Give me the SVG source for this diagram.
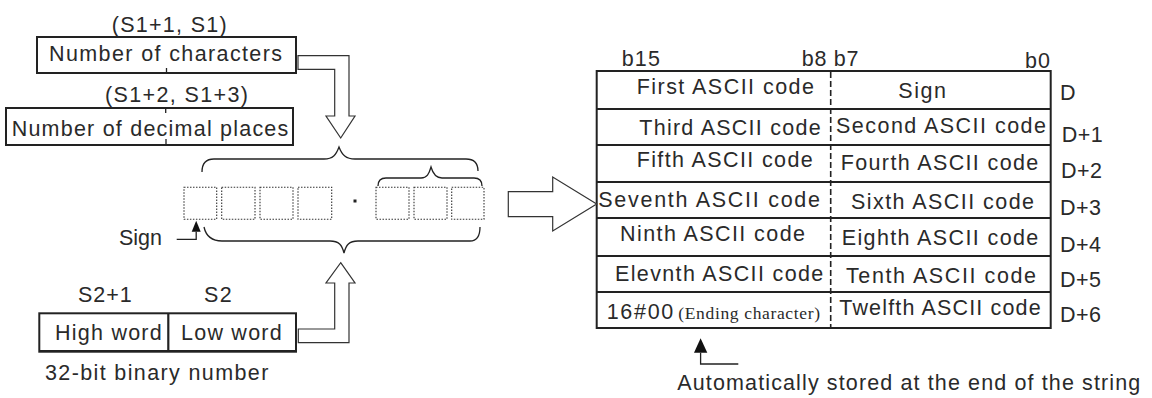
<svg xmlns="http://www.w3.org/2000/svg" width="1152" height="398" viewBox="0 0 1152 398">
<style>
text{font-family:"Liberation Sans",Arial,sans-serif;font-size:21.5px;fill:#2a2a2a;}
.serif{font-family:"Liberation Serif","Times New Roman",serif;font-size:17.5px;}
.box{fill:#fff;stroke:#222;stroke-width:2;}
.line{fill:none;stroke:#222;stroke-width:1.3;}
.hollow{fill:#fff;stroke:#333;stroke-width:1.2;stroke-linejoin:miter;}
.dot{fill:none;stroke:#333;stroke-width:1.1;stroke-dasharray:1.5 1.5;}
.brace{fill:none;stroke:#222;stroke-width:1.3;}
.row{stroke:#222;stroke-width:2.2;}
</style>
<rect width="1152" height="398" fill="#fff"/>

<g id="chars">
<text x="111.7" y="31.7" textLength="115">(S1+1, S1)</text>
<rect class="box" x="37" y="37" width="259" height="36"/>
<line class="line" x1="166.5" y1="68" x2="166.5" y2="73" stroke-width="2"/>
<text x="49" y="61" textLength="233">Number of characters</text>
</g>

<g id="decimals">
<text x="105" y="101.7" textLength="143">(S1+2, S1+3)</text>
<rect class="box" x="6" y="108" width="287" height="37"/>
<line class="line" x1="165.7" y1="108" x2="165.7" y2="113" stroke-width="2"/>
<line class="line" x1="166" y1="139" x2="166" y2="145" stroke-width="2"/>
<text x="11.7" y="136" textLength="276.6">Number of decimal places</text>
</g>

<g id="digits">
<rect class="dot" x="184" y="187.3" width="32.7" height="32"/>
<rect class="dot" x="221.7" y="187.3" width="33.3" height="32"/>
<rect class="dot" x="260" y="187.3" width="33" height="32"/>
<rect class="dot" x="298" y="187.3" width="33.7" height="32"/>
<rect x="353.5" y="199.5" width="3" height="3" fill="#222"/>
<rect class="dot" x="376" y="187.3" width="33" height="32"/>
<rect class="dot" x="414" y="187.3" width="33" height="32"/>
<rect class="dot" x="451.7" y="187.3" width="32.3" height="32"/>
<path class="brace" d="M202,172 C202,163 206,159 214,159 L324,159 C333,159 336,155 339,147 C342,155 346,159 355,159 L466,159 C474,159 478,163 478,171"/>
<path class="brace" d="M378,186 C378,180 381,178 386,178 L421,178 C427,178 429,174 431,167 C433,174 436,178 442,178 L474,178 C479,178 482,180 482,186"/>
<path class="brace" d="M204,227 C206,236 212,241 222,241 L330,241 C339,241 342,245 344,253 C346,245 349,241 358,241 L470,241 C477,241 480,236 480,227"/>
</g>

<g id="sign">
<text x="162" y="245" text-anchor="end">Sign</text>
</g>

<g id="words">
<text x="78" y="301.7" textLength="53.7">S2+1</text>
<text x="204" y="301.7" textLength="27.7">S2</text>
<rect class="box" x="39.3" y="313.3" width="256.7" height="38.4"/>
<line class="row" x1="39.3" y1="351" x2="296" y2="351" stroke-width="2.5"/>
<line class="row" x1="168.3" y1="313.3" x2="168.3" y2="351.7"/>
<text x="55" y="340" textLength="106.7">High word</text>
<text x="181" y="340" textLength="100.7">Low word</text>
<text x="45" y="380" textLength="223.3">32-bit binary number</text>
</g>

<g id="table">
<text x="621.7" y="66" textLength="38.3">b15</text>
<text x="801.7" y="66" textLength="56.7">b8 b7</text>
<text x="1025" y="68.3" textLength="25">b0</text>
<rect class="box" x="596.7" y="71" width="454" height="257" stroke-width="2.2"/>
<line class="row" x1="596.7" y1="109" x2="1050.7" y2="109"/>
<line class="row" x1="596.7" y1="145" x2="1050.7" y2="145"/>
<line class="row" x1="596.7" y1="182" x2="1050.7" y2="182"/>
<line class="row" x1="596.7" y1="218" x2="1050.7" y2="218"/>
<line class="row" x1="596.7" y1="256" x2="1050.7" y2="256"/>
<line class="row" x1="596.7" y1="292" x2="1050.7" y2="292"/>
<line x1="830.7" y1="72" x2="830.7" y2="327" stroke="#222" stroke-width="1.6" stroke-dasharray="6 3"/>

<text x="636.7" y="94.3" textLength="177.3">First ASCII code</text>
<text x="639.3" y="135" textLength="181.4">Third ASCII code</text>
<text x="636.7" y="166.7" textLength="176">Fifth ASCII code</text>
<text x="598.3" y="206.7" textLength="221.7">Seventh ASCII code</text>
<text x="620" y="240.7" textLength="185">Ninth ASCII code</text>
<text x="615" y="281" textLength="208.3">Elevnth ASCII code</text>
<text x="606.7" y="319" textLength="66.6">16#00</text>
<text class="serif" x="678.3" y="319" textLength="141.7">(Ending character)</text>

<text x="898.3" y="97.7" textLength="47.7">Sign</text>
<text x="836" y="132.7" textLength="210">Second ASCII code</text>
<text x="840.7" y="170" textLength="197.6">Fourth ASCII code</text>
<text x="851" y="209.3" textLength="183">Sixth ASCII code</text>
<text x="841.7" y="245" textLength="196.6">Eighth ASCII code</text>
<text x="846" y="283.3" textLength="190">Tenth ASCII code</text>
<text x="839.3" y="315" textLength="201.4">Twelfth ASCII code</text>

<text x="1060" y="100" textLength="17">D</text>
<text x="1061.7" y="141.7" textLength="41">D+1</text>
<text x="1061" y="178.3" textLength="41">D+2</text>
<text x="1060" y="215" textLength="41">D+3</text>
<text x="1060" y="251.7" textLength="41">D+4</text>
<text x="1060" y="286.7" textLength="41">D+5</text>
<text x="1060" y="322" textLength="41">D+6</text>
</g>

<g id="note">
<text x="677.3" y="390" textLength="463">Automatically stored at the end of the string</text>
</g>

<g id="connectors">
<path class="hollow" d="M298,55.7 L349,55.7 L349,116 L355,116 L340.7,138 L326,116 L334.7,116 L334.7,69.3 L298,69.3 Z"/>
<path class="hollow" d="M340.7,262.7 L355,283 L349,283 L349,342.7 L298.3,342.7 L298.3,329 L334.7,329 L334.7,283 L326,283 Z"/>
<path class="hollow" d="M508.3,191.7 L552.7,191.7 L552.7,177 L596.7,204 L552.7,231 L552.7,216.7 L508.3,216.7 Z"/>
<polygon points="191.7,231.7 196.2,220.7 200.7,231.7" fill="#111"/>
<polyline class="line" points="196.2,231.7 196.2,239.3 176.7,239.3"/>
<polygon points="694,352.7 700.6,338.3 707.3,352.7" fill="#111"/>
<polyline class="line" points="700.6,352.7 700.6,364 738.3,364"/>
</g>
</svg>
